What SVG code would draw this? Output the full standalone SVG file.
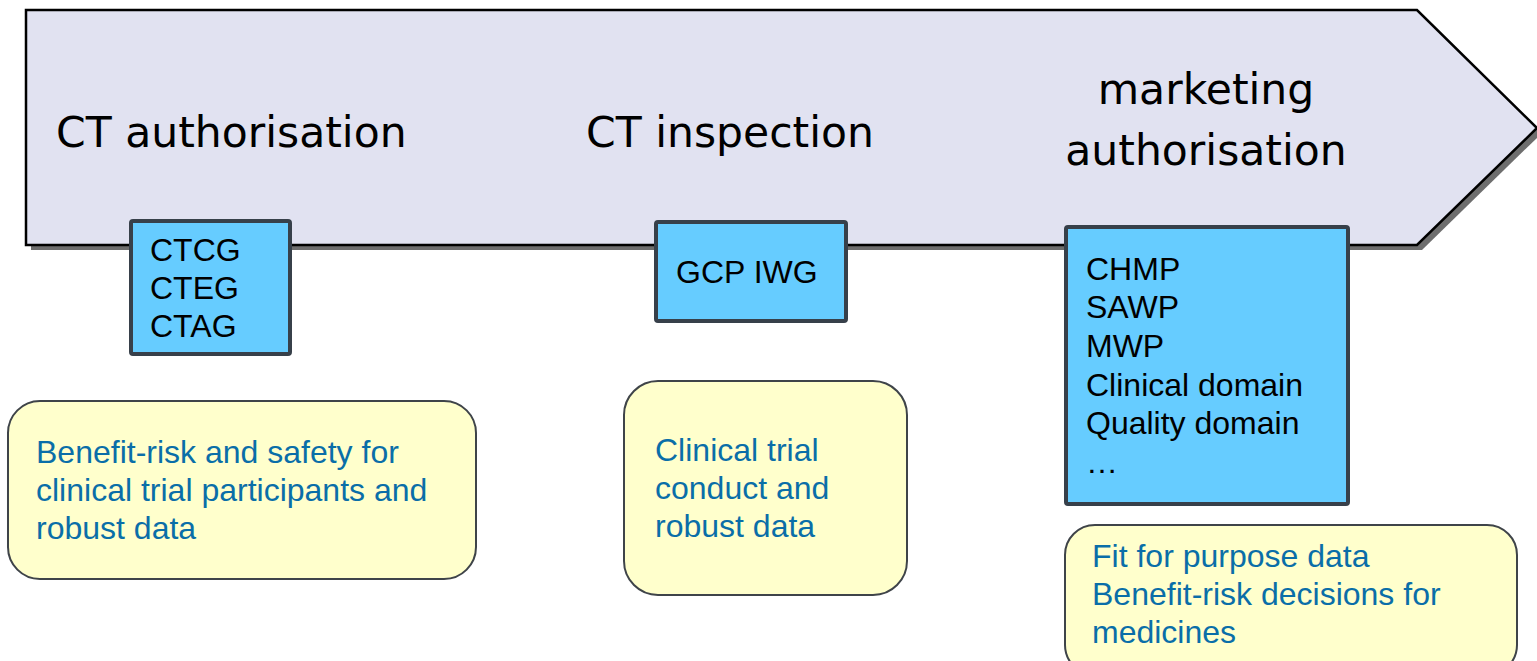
<svg xmlns="http://www.w3.org/2000/svg" width="1537" height="661" viewBox="0 0 1537 661">
<style>
.head{font-family:"DejaVu Sans",Verdana,sans-serif;font-size:42.5px;fill:#000}
.blue{fill:#66ccff;stroke:#37404a;stroke-width:4}
.bt{font-family:"Liberation Sans",Arial,sans-serif;font-size:32px;fill:#000}
.yel{fill:#ffffcc;stroke:#3f4449;stroke-width:2}
.yt{font-family:"Liberation Sans",Arial,sans-serif;font-size:32px;fill:#0a6ea8}
</style>
<rect width="1537" height="661" fill="#fff"/>
<g id="arrow">
<polygon points="31,15 1422,15 1542,133 1422,250 31,250" fill="#6e6e6e"/>
<polygon points="26,10 1417,10 1537,128 1417,245 26,245" fill="#e1e2f1" stroke="#000" stroke-width="2.5"/>
<text class="head" x="56" y="147">CT authorisation</text>
<text class="head" x="586" y="147">CT inspection</text>
<text class="head" x="1206" y="104" text-anchor="middle">marketing</text>
<text class="head" x="1206" y="165" text-anchor="middle">authorisation</text>
</g>
<g id="box-ctcg">
<rect class="blue" x="131" y="221" width="159" height="133" rx="2"/>
<text class="bt" x="150" y="261">CTCG</text>
<text class="bt" x="150" y="299">CTEG</text>
<text class="bt" x="150" y="337">CTAG</text>
</g>
<g id="box-gcp">
<rect class="blue" x="656" y="222" width="190" height="99" rx="2"/>
<text class="bt" x="676" y="283">GCP IWG</text>
</g>
<g id="box-chmp">
<rect class="blue" x="1066" y="227" width="282" height="277" rx="2"/>
<text class="bt" x="1086" y="280">CHMP</text>
<text class="bt" x="1086" y="318">SAWP</text>
<text class="bt" x="1086" y="357">MWP</text>
<text class="bt" x="1086" y="396">Clinical domain</text>
<text class="bt" x="1086" y="434">Quality domain</text>
<text class="bt" x="1086" y="473">…</text>
</g>
<g id="note-ct">
<rect class="yel" x="8" y="401" width="468" height="178" rx="32"/>
<text class="yt" x="36" y="463">Benefit-risk and safety for</text>
<text class="yt" x="36" y="501">clinical trial participants and</text>
<text class="yt" x="36" y="539">robust data</text>
</g>
<g id="note-insp">
<rect class="yel" x="624" y="381" width="283" height="214" rx="34"/>
<text class="yt" x="655" y="461">Clinical trial</text>
<text class="yt" x="655" y="499">conduct and</text>
<text class="yt" x="655" y="537">robust data</text>
</g>
<g id="note-ma">
<rect class="yel" x="1065" y="525" width="452" height="150" rx="30"/>
<text class="yt" x="1092" y="567">Fit for purpose data</text>
<text class="yt" x="1092" y="605">Benefit-risk decisions for</text>
<text class="yt" x="1092" y="643">medicines</text>
</g>
<g id="connectors"/>
</svg>
